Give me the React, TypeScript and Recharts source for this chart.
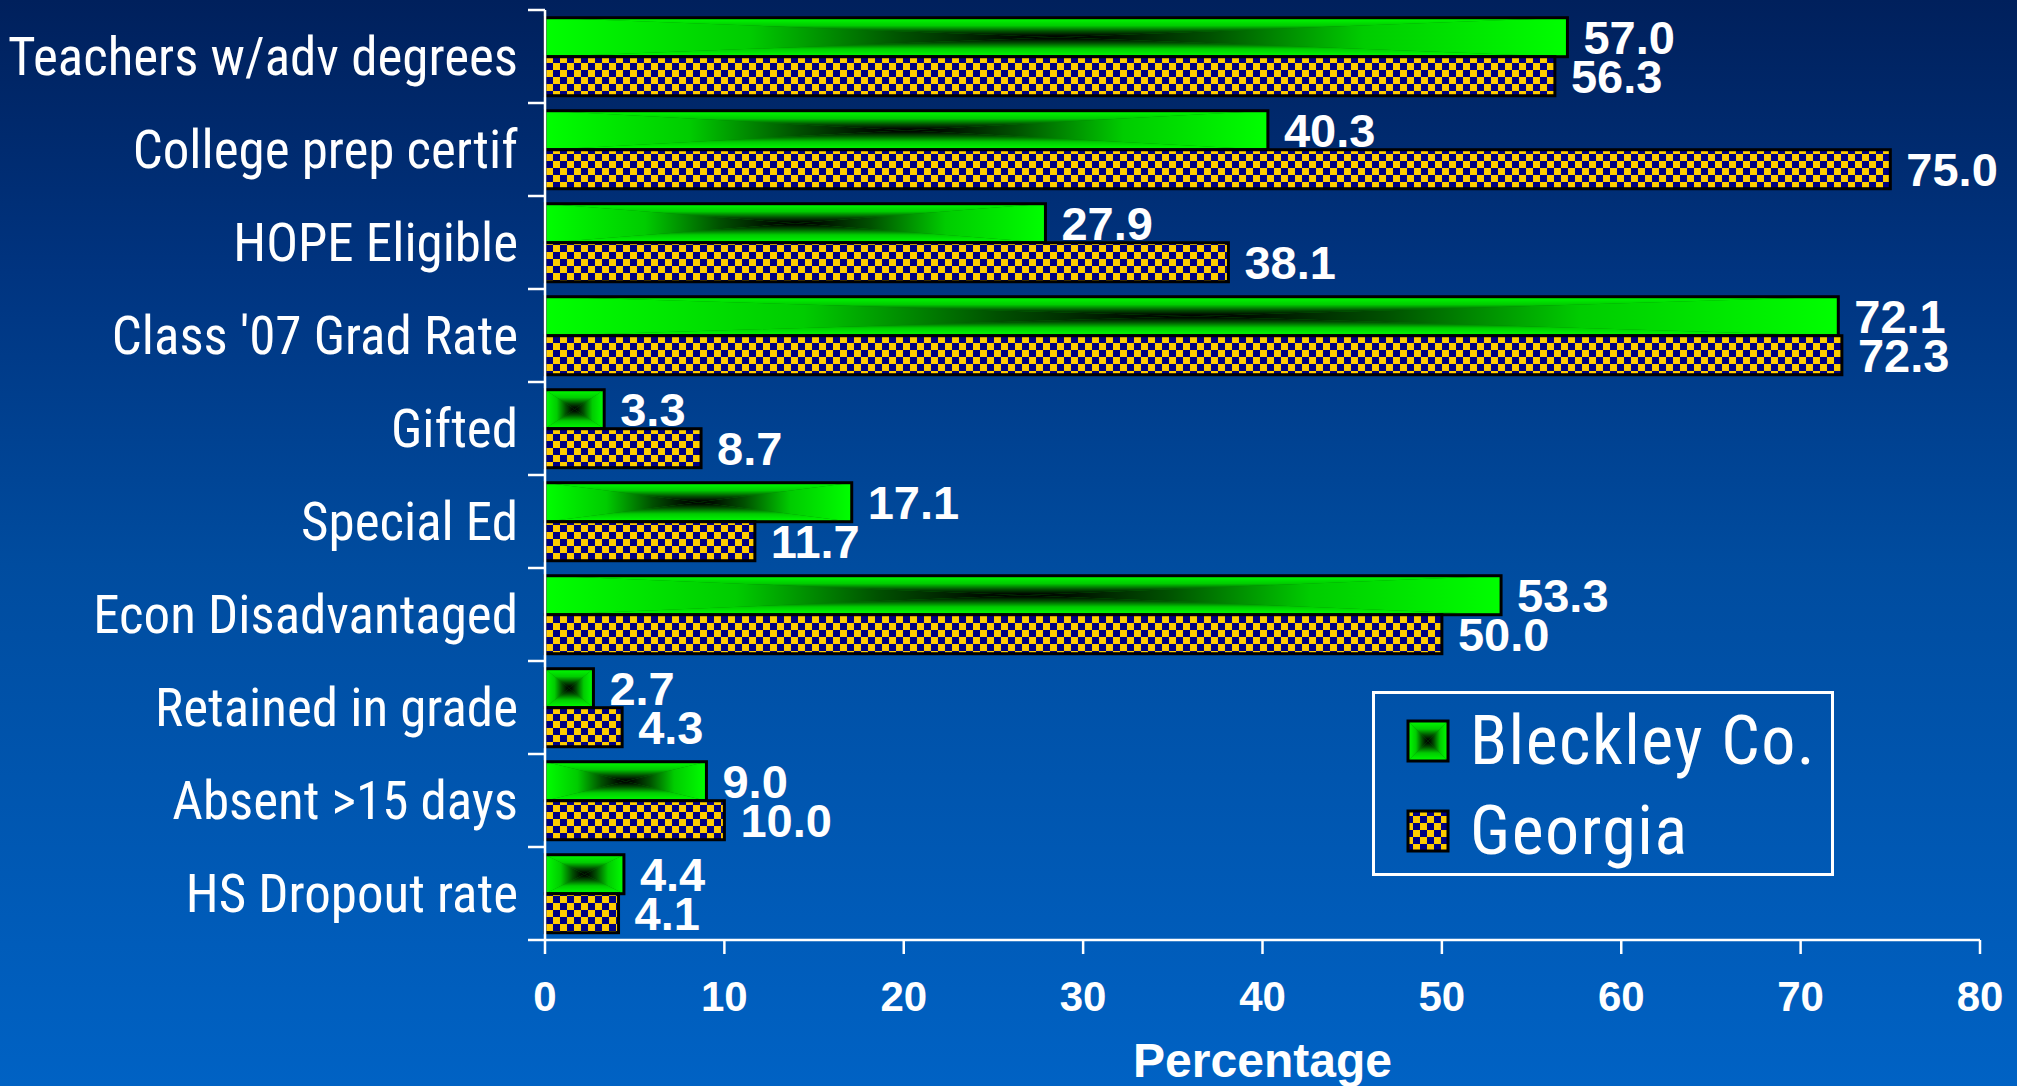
import React from 'react';
import { BarChart, Bar, XAxis, YAxis, LabelList, Legend, Label } from 'recharts';

const categories = [
  'Teachers w/adv degrees',
  'College prep certif',
  'HOPE Eligible',
  "Class '07 Grad Rate",
  'Gifted',
  'Special Ed',
  'Econ Disadvantaged',
  'Retained in grade',
  'Absent >15 days',
  'HS Dropout rate',
];
const bleckley = [57.0, 40.3, 27.9, 72.1, 3.3, 17.1, 53.3, 2.7, 9.0, 4.4];
const georgia = [56.3, 75.0, 38.1, 72.3, 8.7, 11.7, 50.0, 4.3, 10.0, 4.1];
const xTicks = [0, 10, 20, 30, 40, 50, 60, 70, 80];
const seriesNames = ['Bleckley Co.', 'Georgia'];

const data = categories.map((c, i) => ({ cat: c, bleckley: bleckley[i], georgia: georgia[i] }));

const W = 2017;
const H = 1086;
const NARROW = "'Liberation Sans Narrow', 'Arial Narrow', 'Roboto Condensed', sans-serif";
const BOLD = "'Liberation Sans', Arial, sans-serif";
const Y_TICK_SIZE = 17;
const Y_TICK_MARGIN = 10;

const GradStops = () => (
  <>
    <stop offset="0" stopColor="#00ff00" />
    <stop offset="0.4" stopColor="#00cc00" />
    <stop offset="0.7" stopColor="#005000" />
    <stop offset="0.9" stopColor="#001000" />
    <stop offset="1" stopColor="#000000" />
  </>
);

const Defs = ({ p }: { p: string }) => (
  <defs>
    <linearGradient id={p + 'gT'} x1="0" y1="0" x2="0" y2="1"><GradStops /></linearGradient>
    <linearGradient id={p + 'gB'} x1="0" y1="1" x2="0" y2="0"><GradStops /></linearGradient>
    <linearGradient id={p + 'gL'} x1="0" y1="0" x2="1" y2="0"><GradStops /></linearGradient>
    <linearGradient id={p + 'gR'} x1="1" y1="0" x2="0" y2="0"><GradStops /></linearGradient>
    <pattern id={p + 'chk'} width="14" height="14" patternUnits="userSpaceOnUse">
      <rect x="0" y="0" width="14" height="14" fill="#000080" />
      <rect x="0" y="0" width="7" height="7" fill="#ffcc00" />
      <rect x="7" y="7" width="7" height="7" fill="#ffcc00" />
    </pattern>
  </defs>
);

const RectGradient = ({ x, y, width, height, p }: any) => {
  if (!width || !height || width <= 0) return null;
  const cx = x + width / 2;
  const cy = y + height / 2;
  const x2 = x + width;
  const y2 = y + height;
  return (
    <g>
      <rect x={x} y={y} width={width} height={height} fill="#008800" />
      <polygon points={`${x},${y} ${x2},${y} ${cx},${cy}`} fill={`url(#${p}gT)`} />
      <polygon points={`${x},${y2} ${x2},${y2} ${cx},${cy}`} fill={`url(#${p}gB)`} />
      <polygon points={`${x},${y} ${x},${y2} ${cx},${cy}`} fill={`url(#${p}gL)`} />
      <polygon points={`${x2},${y} ${x2},${y2} ${cx},${cy}`} fill={`url(#${p}gR)`} />
      <rect x={x} y={y} width={width} height={height} fill="none" stroke="#000" strokeWidth={3} />
    </g>
  );
};

const GreenBar = (props: any) => <RectGradient {...props} p="m" />;

const CheckBar = (props: any) => {
  const { x, y, width, height } = props;
  if (!width || width <= 0) return null;
  return <rect x={x} y={y} width={width} height={height} fill="url(#mchk)" stroke="#000" strokeWidth={3} />;
};

const CatTick = (props: any) => {
  const { x, y, payload, index, visibleTicksCount } = props;
  const half = payload && typeof payload.offset === 'number' && payload.offset > 0 ? payload.offset : 46.5;
  const axisX = x + Y_TICK_MARGIN + Y_TICK_SIZE;
  return (
    <g>
      <line x1={axisX - Y_TICK_SIZE} x2={axisX} y1={y - half} y2={y - half} stroke="#fff" strokeWidth={2.5} />
      {index === visibleTicksCount - 1 && (
        <line x1={axisX - Y_TICK_SIZE} x2={axisX} y1={y + half} y2={y + half} stroke="#fff" strokeWidth={2.5} />
      )}
      <text x={x} y={y} textAnchor="end" dominantBaseline="central" fill="#fff" fontFamily={NARROW} fontSize={53}>
        {payload.value}
      </text>
    </g>
  );
};

const LegendContent = () => (
  <div
    style={{
      width: 462,
      height: 185,
      boxSizing: 'border-box',
      border: '3px solid #ffffff',
      position: 'relative',
    }}
  >
    {seriesNames.map((name, i) => (
      <div
        key={name}
        style={{ position: 'absolute', left: 31, top: i === 0 ? 26 : 116, height: 42, display: 'flex', alignItems: 'center' }}
      >
        <svg width={44} height={44} style={{ display: 'block' }}>
          <Defs p={'l' + i} />
          {i === 0 ? (
            <RectGradient x={2} y={2} width={40} height={40} p={'l' + i} />
          ) : (
            <rect x={2} y={2} width={40} height={40} fill={`url(#l${i}chk)`} stroke="#000" strokeWidth={3} />
          )}
        </svg>
        <span
          style={{
            marginLeft: 20,
            color: '#fff',
            fontFamily: NARROW,
            fontSize: 68,
            letterSpacing: 1.5,
            lineHeight: '68px',
            whiteSpace: 'nowrap',
          }}
        >
          {name}
        </span>
      </div>
    ))}
  </div>
);

const valueLabelStyle = { fill: '#fff', fontFamily: BOLD, fontWeight: 'bold', fontSize: 47 };

export default function App() {
  return (
    <div
      style={{
        position: 'absolute',
        left: 0,
        top: 0,
        width: W,
        height: H,
        background: 'linear-gradient(to bottom, #00205c 0%, #003480 25%, #004c9f 52%, #0062c4 100%)',
        overflow: 'hidden',
      }}
    >
      <svg width={0} height={0} style={{ position: 'absolute' }}>
        <Defs p="m" />
      </svg>
      <BarChart
        width={W}
        height={H}
        data={data}
        layout="vertical"
        margin={{ top: 10, right: 37, left: 0, bottom: 0 }}
        barCategoryGap="8.3%"
        barGap={0}
      >
        <XAxis
          type="number"
          domain={[0, 80]}
          ticks={xTicks}
          height={146}
          axisLine={{ stroke: '#fff', strokeWidth: 2.5 }}
          tickLine={{ stroke: '#fff', strokeWidth: 2.5 }}
          tickSize={14}
          tickMargin={27}
          tick={{ fill: '#fff', fontFamily: BOLD, fontWeight: 'bold', fontSize: 42 }}
          interval={0}
        >
          <Label
            value="Percentage"
            position="insideBottom"
            offset={9}
            fill="#fff"
            style={{ fontFamily: BOLD, fontWeight: 'bold', fontSize: 48, fill: '#fff' }}
          />
        </XAxis>
        <YAxis
          type="category"
          dataKey="cat"
          width={545}
          axisLine={{ stroke: '#fff', strokeWidth: 2.5 }}
          tickLine={false}
          tickSize={Y_TICK_SIZE}
          tickMargin={Y_TICK_MARGIN}
          tick={<CatTick />}
          interval={0}
        />
        <Legend
          layout="vertical"
          align="center"
          verticalAlign="middle"
          content={<LegendContent />}
          wrapperStyle={{ position: 'absolute', left: 1372, top: 691, width: 462, height: 185 }}
        />
        <Bar dataKey="bleckley" name={seriesNames[0]} shape={<GreenBar />} isAnimationActive={false}>
          <LabelList
            dataKey="bleckley"
            position="right"
            offset={16}
            formatter={(v: any) => Number(v).toFixed(1)}
            style={valueLabelStyle}
          />
        </Bar>
        <Bar dataKey="georgia" name={seriesNames[1]} shape={<CheckBar />} isAnimationActive={false}>
          <LabelList
            dataKey="georgia"
            position="right"
            offset={16}
            formatter={(v: any) => Number(v).toFixed(1)}
            style={valueLabelStyle}
          />
        </Bar>
      </BarChart>
    </div>
  );
}
